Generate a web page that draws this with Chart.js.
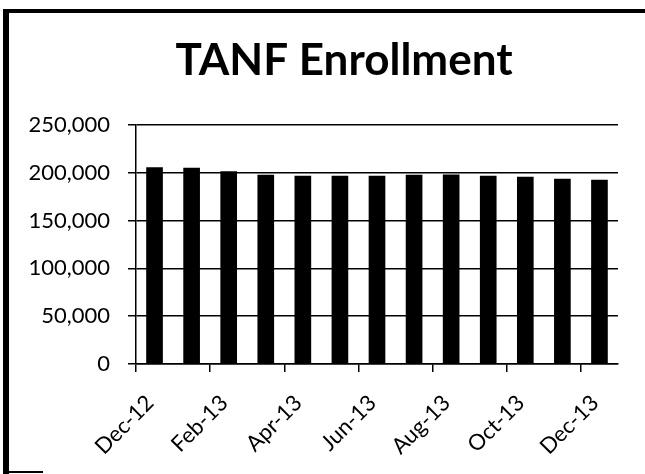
<!DOCTYPE html>
<html>
<head>
<meta charset="utf-8">
<script src="https://cdn.jsdelivr.net/npm/chart.js@4.4.1/dist/chart.umd.min.js"></script>
<style>
  html, body { margin: 0; padding: 0; background: #fff; overflow: hidden; }
  body { width: 645px; height: 474px; position: relative; }
  #chart { position: absolute; left: 0; top: 0; }
  .frame { position: absolute; left: 3px; top: 9px; width: 700px; height: 464px;
           border-left: 6px solid #000; border-top: 4px solid #000; }
  .foot { position: absolute; left: 3px; top: 471px; width: 40px; height: 2px; background: #000; }
</style>
</head>
<body>
<canvas id="chart" width="688" height="474"></canvas>
<div class="frame"></div>
<div class="foot"></div>
<script>
  // months, one bar each
  const months = ["Dec-12", "Jan-13", "Feb-13", "Mar-13", "Apr-13", "May-13", "Jun-13",
                  "Jul-13", "Aug-13", "Sep-13", "Oct-13", "Nov-13", "Dec-13"];
  const enrollment = [205300, 204700, 201100, 197400, 196400, 196400, 196400,
                      197500, 197600, 196400, 195300, 193300, 192200];
  const yTicks = [0, 50000, 100000, 150000, 200000, 250000];

  const labelFont = { family: "Lato", size: 22 };

  new Chart(document.getElementById("chart"), {
    type: "bar",
    data: {
      datasets: [{
        label: "TANF Enrollment",
        data: enrollment.map((v, i) => ({ x: i + 0.5, y: v })),
        backgroundColor: "#000",
        barThickness: 16
      }]
    },
    options: {
      responsive: false,
      animation: false,
      layout: { padding: 0 },
      plugins: {
        legend: { display: false },
        tooltip: { enabled: false },
        title: {
          display: true,
          text: "TANF Enrollment",
          color: "#000",
          font: { family: "Lato", size: 44, weight: "bold" },
          padding: { top: 34, bottom: 38 }
        }
      },
      scales: {
        x: {
          type: "linear",
          offset: false,
          min: 0,
          max: months.length,
          afterBuildTicks: s => { s.ticks = months.map((m, i) => ({ value: i })).filter(t => t.value % 2 === 0); },
          afterFit: s => { s.height = 110; },
          ticks: {
            autoSkip: false,
            maxRotation: 45,
            minRotation: 45,
            color: "#000",
            font: labelFont,
            padding: 18,
            labelOffset: 14,
            callback: v => months[v]
          },
          grid: { offset: false, drawOnChartArea: false, color: "#000", lineWidth: 1.5, tickLength: 8 },
          border: { display: true, color: "#000", width: 1.5 }
        },
        y: {
          min: 0,
          max: 250000,
          afterBuildTicks: s => { s.ticks = yTicks.map(v => ({ value: v })); },
          afterFit: s => { s.width = 136; },
          ticks: {
            color: "#000",
            font: labelFont,
            padding: 18,
            callback: v => v.toLocaleString("en-US")
          },
          grid: { color: "#000", lineWidth: 1.5, tickLength: 8 },
          border: { display: true, color: "#000", width: 1.5 }
        },
        // empty right-hand gutter so the title centres over the whole frame
        gutter: {
          position: "right",
          min: 0,
          max: 1,
          afterFit: s => { s.width = 70; },
          ticks: { display: false },
          grid: { display: false },
          border: { display: false }
        }
      }
    }
  });
</script>
</body>
</html>
